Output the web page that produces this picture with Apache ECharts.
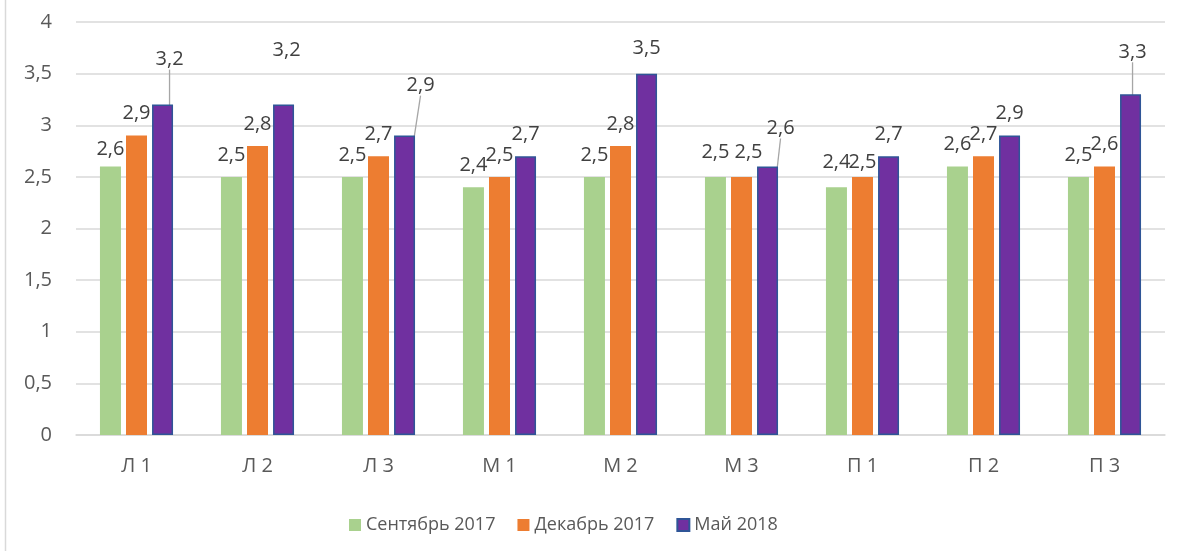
<!DOCTYPE html>
<html>
<head>
<meta charset="utf-8">
<script src="https://cdn.jsdelivr.net/npm/echarts@6/dist/echarts.min.js"></script>
<style>
html,body{margin:0;padding:0;background:#fff;}
#chart{width:1177px;height:551px;}
</style>
</head>
<body>
<div id="chart"></div>
<script>
// ---- data ----
const categories = ['Л 1', 'Л 2', 'Л 3', 'М 1', 'М 2', 'М 3', 'П 1', 'П 2', 'П 3'];
const seriesNames = ['Сентябрь 2017', 'Декабрь 2017', 'Май 2018'];
const sep2017 = [2.6, 2.5, 2.5, 2.4, 2.5, 2.5, 2.4, 2.6, 2.5];
const dec2017 = [2.9, 2.8, 2.7, 2.5, 2.8, 2.5, 2.5, 2.7, 2.6];
const may2018 = [3.2, 3.2, 2.9, 2.7, 3.5, 2.6, 2.7, 2.9, 3.3];
const yTicks = [0, 0.5, 1, 1.5, 2, 2.5, 3, 3.5, 4];

// ---- label placement tweaks (layout only) ----
const labelNudge = {
  '0-0': [0, 5],
  '2-0': [7, -23, true],
  '2-1': [3, -32],
  '2-2': [16, -28, true],
  '2-4': [0, -3],
  '0-5': [0, -3],
  '1-5': [7, -3],
  '2-5': [13, -16, true],
  '0-6': [0, -3],
  '1-6': [0, 7],
  '2-8': [2, -20, true]
};

const colors = ['#A9D18E', '#ED7D31', '#7030A0'];
const valueArrays = [sep2017, dec2017, may2018];
const fmt = v => String(v).replace('.', ',');
const FONT = '"Open Sans", "Noto Sans", sans-serif';

const series = valueArrays.map((arr, si) => ({
  name: seriesNames[si],
  type: 'bar',
  barWidth: 21,
  barGap: '24%',
  itemStyle: si === 2 ? { color: colors[si], borderColor: '#2F5597', borderWidth: 1.5 } : { color: colors[si] },
  label: {
    show: true,
    position: 'top',
    distance: 12,
    color: '#404040',
    fontSize: 20,
    fontFamily: FONT,
    formatter: p => fmt(p.value)
  },
  labelLine: { show: false },
  labelLayout: p => {
    const n = labelNudge[si + '-' + p.dataIndex];
    return n ? { dx: n[0], dy: n[1] } : {};
  },
  data: arr.map((v, i) => {
    const n = labelNudge[si + '-' + i];
    if (n && n[2]) {
      return { value: v, labelLine: { show: true, lineStyle: { color: '#A6A6A6', width: 1.3 } } };
    }
    return v;
  })
}));

const chart = echarts.init(document.getElementById('chart'), null, { renderer: 'canvas' });
chart.setOption({
  animation: false,
  backgroundColor: '#fff',
  textStyle: { fontFamily: FONT },
  grid: { left: 76, right: 12, top: 22, bottom: 116, containLabel: false },
  legend: {
    data: seriesNames,
    left: 344,
    top: 511,
    itemWidth: 12,
    itemHeight: 12,
    itemGap: 22,
    icon: 'rect',
    textStyle: { color: '#595959', fontSize: 18, fontFamily: FONT }
  },
  xAxis: {
    type: 'category',
    data: categories,
    axisLine: { lineStyle: { color: '#D9D9D9', width: 1.5 } },
    axisTick: { show: false },
    axisLabel: { color: '#595959', fontSize: 20, margin: 21, fontFamily: FONT }
  },
  yAxis: {
    type: 'value',
    min: yTicks[0],
    max: yTicks[yTicks.length - 1],
    interval: 0.5,
    axisLine: { show: false },
    axisTick: { show: false },
    splitLine: { lineStyle: { color: '#D9D9D9', width: 1.5 } },
    axisLabel: { color: '#595959', fontSize: 20, margin: 24, fontFamily: FONT, formatter: v => fmt(v) }
  },
  graphic: [{
    type: 'line',
    shape: { x1: 5.5, y1: 0, x2: 5.5, y2: 551 },
    style: { stroke: '#D9D9D9', lineWidth: 1.5 },
    silent: true
  }],
  series: series
});
</script>
</body>
</html>
